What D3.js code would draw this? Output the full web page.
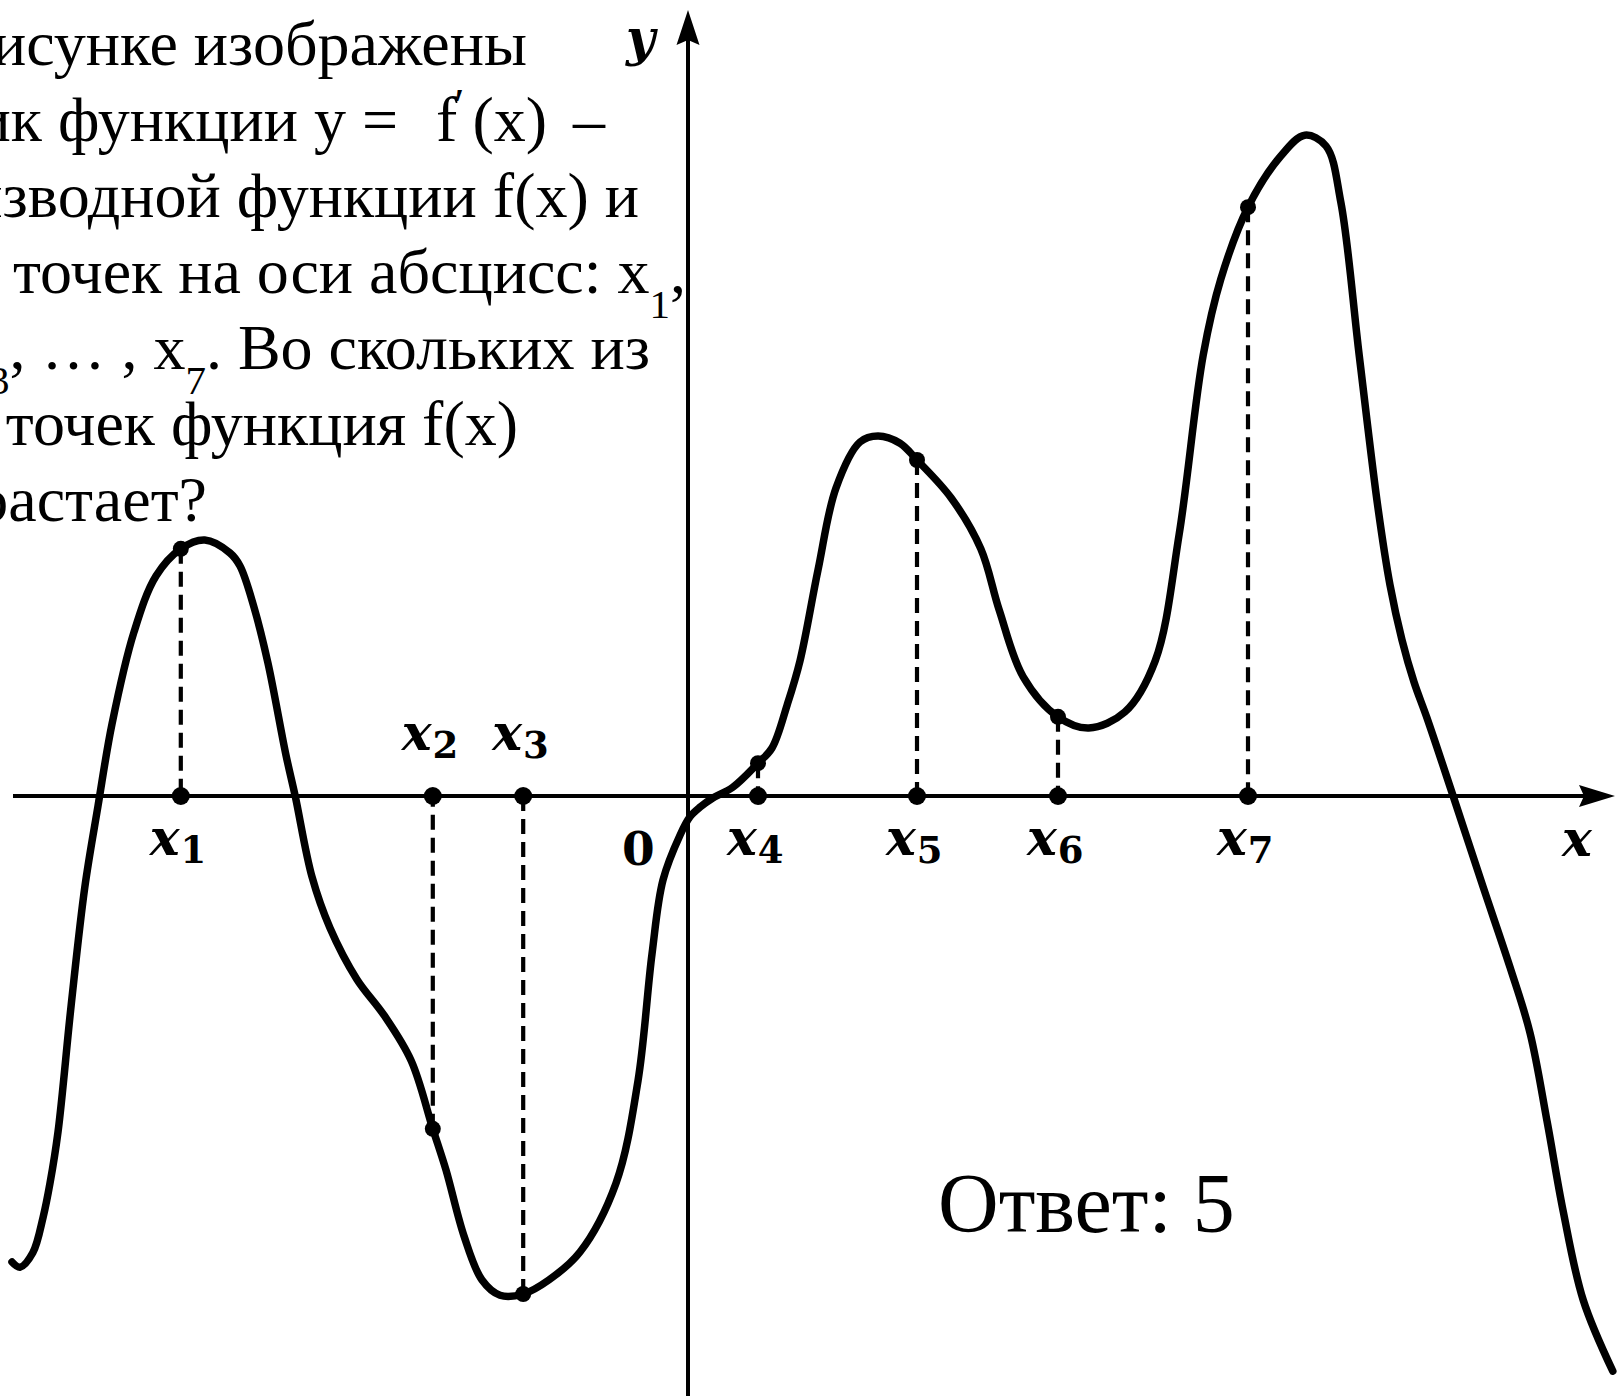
<!DOCTYPE html>
<html>
<head>
<meta charset="utf-8">
<script src="https://cdn.jsdelivr.net/npm/d3@7"></script>
<style>
  html, body { margin: 0; padding: 0; background: #fff; overflow: hidden; }
  svg { display: block; }
</style>
</head>
<body>
<svg id="chart" width="1623" height="1397"></svg>
<script>
// Graph of y = f'(x), sampled along the curve (x, f'(x))
const curveX = [-8.45, -8.35, -8.19, -8.06, -7.975, -7.875, -7.71, -7.54, -7.375, -7.2, -6.925, -6.65,
  -6.04, -5.725, -5.6, -5.425, -5.25, -5.025, -4.91, -4.7, -4.475, -4.14, -3.8, -3.46,
  -3.025, -2.8, -2.575, -2.35, -1.74, -1.35, -0.9, -0.625, -0.45, -0.3125, -0.1, 0.025, 0.15,
  0.31, 0.56, 1.05, 1.24, 1.4, 1.625, 1.85, 2.15, 2.375, 2.65, 3.29, 3.66, 3.89, 4.19,
  5.01, 5.46, 5.84, 6.14, 6.44, 6.66, 7.41, 7.71, 7.975, 8.16, 8.39, 8.625, 8.775, 8.925, 9.075,
  9.2375, 9.56, 9.94, 10.275, 10.525, 10.74, 10.94, 11.19, 11.56];
const curveY = [-5.825, -5.89, -5.71, -5.26, -4.84, -4.2, -2.61, -1.14, -0.125, 0.9, 2.05, 2.75,
  3.2, 3.0375, 2.875, 2.36, 1.66, 0.51, 0.0, -1.01, -1.65, -2.29, -2.74, -3.31,
  -4.675, -5.5, -6.05, -6.24, -6.05, -5.7, -4.84, -3.56, -1.975, -1.05, -0.49, -0.26, -0.14,
  -0.025, 0.11, 0.6, 1.14, 1.69, 2.825, 3.85, 4.425, 4.5, 4.41, 3.725, 3.09, 2.325, 1.49,
  0.85, 1.05, 1.69, 3.275, 5.51, 6.46, 8.0, 8.26, 8.125, 7.425, 5.51, 3.6, 2.6375, 1.95, 1.425,
  0.975, 0.0125, -1.14, -2.14, -2.96, -4.075, -5.19, -6.3, -7.19];

// The seven marked points x1 ... x7 and the values f'(x_i)
const markIndex = ["1", "2", "3", "4", "5", "6", "7"];
const markX = [-6.34, -3.19, -2.06, 0.875, 2.8625, 4.625, 7.0];
const markY = [3.09, -4.16, -6.225, 0.41, 4.2, 0.99, 7.36];
const markLabelAbove = [false, true, true, false, false, false, false];

// Problem statement (left edge runs past the page) and the answer
const questionLines = [
  [{t: "На рисунке изображены"}],
  [{t: "график функции y ="}, {t: "f", dx: 38}, {t: "′", sup: true, dx: -3}, {t: "(x)", dx: 8}, {t: " –", dx: 10}],
  [{t: "производной функции f(x) и"}],
  [{t: "семь точек на оси абсцисс: x"}, {t: "1", sub: true}, {t: ","}],
  [{t: "x"}, {t: "2", sub: true}, {t: ", x"}, {t: "3", sub: true}, {t: ", … , x"}, {t: "7", sub: true}, {t: ". Во скольких из"}],
  [{t: "этих точек функция f(x)"}],
  [{t: "возрастает?"}]
];
const questionRightEdge = [527, 605, 639, 686, 650, 518, 207];
const answerText = "Ответ: 5";

const svg = d3.select("#chart");

const x = d3.scaleLinear().domain([-8.6, 11.6]).range([0, 1616]);
const y = d3.scaleLinear().domain([-7.5, 9.95]).range([1396, 0]);

// ---- axes ----
const axisG = svg.append("g");
const xAxisStart = -8.4375, xAxisTip = 11.5875;
const yAxisBottom = -7.5, yAxisTip = 9.825;

axisG.append("line")
  .attr("x1", x(xAxisStart)).attr("x2", x(xAxisTip) - 20)
  .attr("y1", y(0)).attr("y2", y(0))
  .attr("stroke", "#000").attr("stroke-width", 4);
axisG.append("path")
  .attr("d", `M${x(xAxisTip)},${y(0)} L${x(xAxisTip) - 36},${y(0) - 11} L${x(xAxisTip) - 31},${y(0)} L${x(xAxisTip) - 36},${y(0) + 11} Z`)
  .attr("fill", "#000");

axisG.append("line")
  .attr("x1", x(0)).attr("x2", x(0))
  .attr("y1", y(yAxisBottom)).attr("y2", y(yAxisTip) + 20)
  .attr("stroke", "#000").attr("stroke-width", 4);
axisG.append("path")
  .attr("d", `M${x(0)},${y(yAxisTip)} L${x(0) - 11.5},${y(yAxisTip) + 35} L${x(0)},${y(yAxisTip) + 30} L${x(0) + 11.5},${y(yAxisTip) + 35} Z`)
  .attr("fill", "#000");

// axis names and origin
const mathFont = "'DejaVu Serif', serif";
axisG.append("text")
  .attr("x", x(xAxisTip) - 53).attr("y", y(0) + 60)
  .attr("font-family", mathFont).attr("font-style", "italic").attr("font-weight", "bold")
  .attr("font-size", 50).text("x");
axisG.append("text")
  .attr("x", x(0) - 62).attr("y", 55)
  .attr("font-family", mathFont).attr("font-style", "italic").attr("font-weight", "bold")
  .attr("font-size", 50).text("y");
axisG.append("text")
  .attr("x", x(0) - 66).attr("y", y(0) + 69)
  .attr("font-family", mathFont).attr("font-weight", "bold")
  .attr("font-size", 47).text("0");

// ---- dashed drop lines from the curve to the axis ----
const marks = markX.map((mx, i) => ({x: mx, y: markY[i], name: markIndex[i], above: markLabelAbove[i]}));

svg.append("g").selectAll("line").data(marks).join("line")
  .attr("x1", d => x(d.x)).attr("x2", d => x(d.x))
  .attr("y1", d => y(d.y)).attr("y2", y(0))
  .attr("stroke", "#000").attr("stroke-width", 4.2)
  .attr("stroke-dasharray", "15,8");

// ---- curve ----
const pts = curveX.map((cx, i) => [cx, curveY[i]])
  .concat(marks.map(m => [m.x, m.y]))
  .sort((a, b) => a[0] - b[0]);

const line = d3.line().x(d => x(d[0])).y(d => y(d[1])).curve(d3.curveCatmullRom.alpha(0.5));
svg.append("path").datum(pts)
  .attr("d", line)
  .attr("fill", "none").attr("stroke", "#000").attr("stroke-width", 7.5)
  .attr("stroke-linecap", "round").attr("stroke-linejoin", "round");

// ---- points on the curve and on the axis ----
const dotG = svg.append("g");
dotG.selectAll("circle.c").data(marks).join("circle").attr("class", "c")
  .attr("cx", d => x(d.x)).attr("cy", d => y(d.y)).attr("r", 8).attr("fill", "#000");
dotG.selectAll("circle.a").data(marks).join("circle").attr("class", "a")
  .attr("cx", d => x(d.x)).attr("cy", y(0)).attr("r", 9).attr("fill", "#000");

// ---- point labels x_i ----
const lab = svg.append("g").selectAll("text").data(marks).join("text")
  .attr("x", d => x(d.x) - 31)
  .attr("y", d => d.above ? y(0) - 46 : y(0) + 59)
  .attr("font-family", mathFont);
lab.append("tspan").attr("font-style", "italic").attr("font-weight", "bold").attr("font-size", 50).text("x");
lab.append("tspan").attr("font-size", 37).attr("font-weight", "bold").attr("dy", 8).attr("dx", 1).text(d => d.name);

// ---- problem text ----
const textFont = "'Liberation Serif', 'Times New Roman', serif";
const q = svg.append("g").selectAll("text").data(questionLines).join("text")
  .attr("x", (d, i) => questionRightEdge[i])
  .attr("y", (d, i) => 65 + i * 76)
  .attr("text-anchor", "end")
  .attr("font-family", textFont).attr("font-size", 64).attr("fill", "#000");
q.each(function(parts) {
  const t = d3.select(this);
  let shift = 0;
  parts.forEach(p => {
    const s = t.append("tspan").text(p.t);
    if (p.dx) s.attr("dx", p.dx);
    if (p.sub) { s.attr("font-size", 41).attr("dy", 25 - shift); shift = 25; }
    else if (p.sup) { s.attr("font-size", 46).attr("dy", -20 - shift); shift = -20; }
    else if (shift !== 0) { s.attr("dy", -shift); shift = 0; }
  });
});

svg.append("text")
  .attr("x", 938).attr("y", 1232)
  .attr("font-family", textFont).attr("font-size", 84).attr("fill", "#000")
  .text(answerText);
</script>
</body>
</html>
